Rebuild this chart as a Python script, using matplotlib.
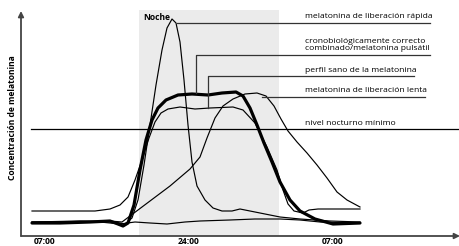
import matplotlib
matplotlib.use("Agg")
import matplotlib.pyplot as plt

# time axis in arbitrary units (0 = start of curves), concentration in arbitrary units
tick_pos = [13, 157, 301]
tick_labels = ["07:00", "24:00", "07:00"]
night_start, night_end = 107, 247
threshold = 107

rapid_t = [0, 48, 83, 93, 100, 106, 112, 118, 124, 130, 135, 140, 144, 148, 152, 156, 160, 165, 173, 181, 190, 200, 208, 218, 233, 248, 268, 298, 328]
rapid_c = [14, 15, 14, 12, 18, 36, 71, 111, 151, 186, 208, 217, 213, 194, 156, 111, 74, 50, 36, 28, 25, 25, 27, 25, 22, 19, 17, 15, 14]

healthy_t = [0, 28, 58, 78, 86, 91, 96, 102, 108, 114, 120, 126, 134, 146, 160, 176, 190, 204, 211, 218, 225, 232, 240, 248, 258, 268, 283, 301, 328]
healthy_c = [13, 13, 14, 15, 12, 10, 13, 31, 66, 96, 116, 128, 136, 141, 142, 141, 143, 144, 140, 128, 111, 93, 74, 54, 36, 25, 17, 12, 13]

pulse_t = [0, 63, 78, 88, 96, 103, 110, 117, 123, 129, 136, 148, 163, 178, 201, 211, 223, 235, 245, 251, 256, 262, 271, 277, 286, 328]
pulse_c = [25, 25, 27, 31, 39, 56, 76, 98, 114, 123, 127, 129, 127, 128, 129, 126, 113, 89, 66, 46, 32, 25, 23, 26, 27, 27]

slow_t = [0, 78, 90, 98, 118, 138, 158, 168, 175, 183, 191, 201, 213, 225, 234, 242, 249, 256, 265, 275, 285, 295, 305, 315, 328]
slow_c = [14, 15, 14, 20, 35, 50, 67, 79, 98, 118, 130, 137, 142, 143, 140, 130, 117, 105, 94, 83, 71, 58, 44, 36, 29]

low_t = [0, 68, 88, 103, 118, 135, 153, 168, 198, 223, 248, 268, 288, 328]
low_c = [13, 14, 12, 14, 13, 12, 14, 15, 16, 17, 17, 16, 14, 13]

labels = ["melatonina de liberación rápida",
          "cronobiológicamente correcto\ncombinado/melatonina pulsátil",
          "perfil sano de la melatonina",
          "melatonina de liberación lenta",
          "nivel nocturno mínimo"]

plt.rcParams['font.family'] = ['Open Sans', 'DejaVu Sans']

fig = plt.figure(figsize=(4.6, 2.46), dpi=100)
ax = fig.add_axes([0, 0, 1, 1])
ax.set_xlim(-32, 428)
ax.set_ylim(-10, 236)
ax.axis('off')

# night shading
ax.fill_between([night_start, night_end], 0, 226, color='#ebebeb', lw=0, zorder=0)

# threshold line
ax.plot([-1, 428], [threshold, threshold], color='black', lw=0.9, zorder=2)

lw_thin = 0.85
for t, c in [(low_t, low_c), (slow_t, slow_c), (pulse_t, pulse_c), (rapid_t, rapid_c)]:
    ax.plot(t, c, color='black', lw=lw_thin, zorder=3, solid_joinstyle='round')
ax.plot(healthy_t, healthy_c, color='black', lw=2.3, zorder=4, solid_joinstyle='round', solid_capstyle='round')

# axes with arrows
axc = '#444444'
ax.annotate('', xy=(428, 0), xytext=(-11, 0),
            arrowprops=dict(arrowstyle='-|>', color=axc, lw=1.3, mutation_scale=8, shrinkA=0, shrinkB=0))
ax.annotate('', xy=(-11, 225), xytext=(-11, 0),
            arrowprops=dict(arrowstyle='-|>', color=axc, lw=1.3, mutation_scale=8, shrinkA=0, shrinkB=0))

fs = 6.1
for p, l in zip(tick_pos, tick_labels):
    ax.text(p, -5, l, ha='center', va='center', fontsize=fs, fontweight='bold')

ax.text(-19, 118, "Concentración de melatonina", rotation=90, ha='center', va='center',
        fontsize=fs, fontweight='bold')
ax.text(111, 218, "Noche", ha='left', va='center', fontsize=fs, fontweight='bold')

# label connectors
lc = '#333333'
tx = 273
ax.plot([145, 398], [213, 213], color=lc, lw=0.9, zorder=5)
ax.text(tx, 215.5, labels[0], ha='left', va='bottom', fontsize=fs)

ax.plot([164, 164, 398], [143, 181, 181], color=lc, lw=0.9, zorder=5)
ax.text(tx, 183.5, labels[1], ha='left', va='bottom', fontsize=fs, linespacing=1.15)

ax.plot([176, 176, 382], [128, 160, 160], color=lc, lw=0.9, zorder=5)
ax.text(tx, 162.5, labels[2], ha='left', va='bottom', fontsize=fs)

ax.plot([230, 393], [139, 139], color=lc, lw=0.9, zorder=5)
ax.text(tx, 141.5, labels[3], ha='left', va='bottom', fontsize=fs)

ax.text(tx, 109, labels[4], ha='left', va='bottom', fontsize=fs)

fig.savefig('out.png', dpi=100)
